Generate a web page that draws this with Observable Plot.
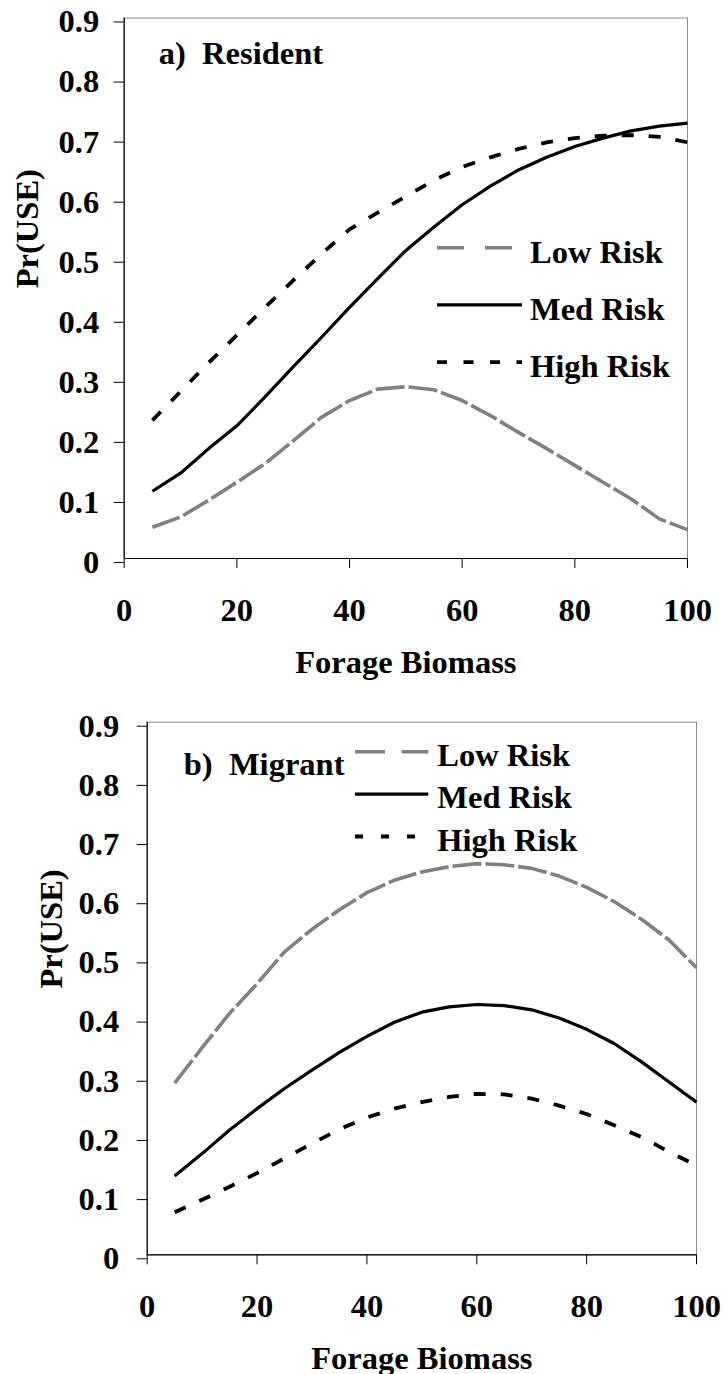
<!DOCTYPE html>
<html>
<head>
<meta charset="utf-8">
<script src="https://cdn.jsdelivr.net/npm/d3@7"></script>
<script src="https://cdn.jsdelivr.net/npm/@observablehq/plot@0.6"></script>
<style>
  body { margin: 0; background: #fff; }
  #chart { width: 723px; }
</style>
</head>
<body>
<div id="chart"></div>
<script>
// ---------- data ----------
const forage = [5,10,15,20,25,30,35,40,45,50,55,60,65,70,75,80,85,90,95,100];

const residentLow  = [0.052,0.069,0.097,0.127,0.158,0.196,0.235,0.263,0.282,0.286,0.281,0.263,0.238,0.210,0.183,0.155,0.127,0.099,0.066,0.048];
const residentMed  = [0.112,0.142,0.183,0.221,0.269,0.319,0.368,0.418,0.466,0.513,0.552,0.589,0.620,0.647,0.668,0.686,0.700,0.712,0.720,0.725];
const residentHigh = [0.230,0.278,0.326,0.372,0.418,0.463,0.507,0.548,0.576,0.603,0.630,0.652,0.668,0.682,0.693,0.700,0.704,0.705,0.702,0.693];

const migrantLow  = [0.290,0.350,0.408,0.458,0.512,0.550,0.583,0.612,0.633,0.647,0.656,0.661,0.659,0.653,0.640,0.621,0.597,0.567,0.532,0.485];
const migrantMed  = [0.133,0.171,0.211,0.247,0.281,0.312,0.342,0.369,0.393,0.410,0.419,0.423,0.421,0.414,0.400,0.381,0.357,0.326,0.292,0.258];
const migrantHigh = [0.072,0.093,0.115,0.138,0.163,0.188,0.212,0.232,0.247,0.258,0.267,0.272,0.271,0.264,0.252,0.238,0.219,0.199,0.174,0.151];

const seriesNames = ["Low Risk", "Med Risk", "High Risk"];
const xTicks = [0, 20, 40, 60, 80, 100];
const yTicks = [0, 0.1, 0.2, 0.3, 0.4, 0.5, 0.6, 0.7, 0.8, 0.9];
const panelLabels = ["a)\u00a0\u00a0Resident", "b)\u00a0\u00a0Migrant"];
const xTitle = "Forage Biomass";
const yTitle = "Pr(USE)";

// ---------- styles ----------
const FONT = '"Liberation Serif", "Times New Roman", Times, serif';
const FS = 32.5;
const seriesStyle = {
  "Low Risk":  {stroke: "#808080", strokeWidth: 3.6, dash: "29,4"},
  "Med Risk":  {stroke: "#000",    strokeWidth: 3.2, dash: null},
  "High Risk": {stroke: "#000",    strokeWidth: 3.8, dash: "12,15"}
};

function table(values) {
  const rows = [];
  seriesNames.forEach((s, i) => forage.forEach((f, j) => rows.push({series: s, x: f, y: values[i][j]})));
  return rows;
}

function panel(cfg) {
  const rows = table(cfg.values);
  const lines = seriesNames.map(s => Plot.line(rows.filter(d => d.series === s), {
    x: "x", y: "y",
    stroke: seriesStyle[s].stroke,
    strokeWidth: seriesStyle[s].strokeWidth,
    strokeDasharray: seriesStyle[s].dash,
    strokeLinecap: "butt",
    strokeLinejoin: "round"
  }));
  const svg = Plot.plot({
    width: 723,
    height: cfg.height,
    marginTop: cfg.mt, marginBottom: cfg.mb, marginLeft: cfg.ml, marginRight: cfg.mr,
    style: {fontFamily: FONT, fontSize: FS + "px", fontWeight: "bold", color: "#000", background: "#fff", overflow: "visible"},
    x: {domain: [0, 100]},
    y: {domain: [0, 0.9]},
    marks: [
      Plot.frame({stroke: "#8c8c8c", strokeWidth: 1}),
      ...lines,
      Plot.ruleX([0], {stroke: "#000", strokeWidth: 1.2}),
      Plot.ruleY([0], {stroke: "#000", strokeWidth: 1.2}),
      Plot.axisX({ticks: xTicks, tickSize: 10, tickPadding: 29, tickFormat: d => String(d), label: null}),
      Plot.axisY({ticks: yTicks, tickSize: 10, tickPadding: cfg.yPad, dy: 4, tickFormat: d => String(d), label: null}),
      Plot.text([xTitle], {frameAnchor: "bottom", lineAnchor: "middle", dy: 104}),
      Plot.text([yTitle], {frameAnchor: "left", lineAnchor: "middle", rotate: -90, dx: cfg.yTitleDx}),
      Plot.text([cfg.label], {frameAnchor: "top-left", lineAnchor: "middle", textAnchor: "start", dx: cfg.labelDx, dy: cfg.labelDy})
    ]
  });
  // legend (inside the frame)
  const lg = cfg.legend;
  const g = d3.select(svg).append("g").attr("transform", `translate(${cfg.ml},${cfg.mt})`);
  seriesNames.forEach((s, i) => {
    const base = lg.base + i * lg.gap;
    const st = seriesStyle[s];
    g.append("line")
      .attr("x1", lg.x0).attr("x2", s === "Low Risk" ? lg.lowEnd : lg.x1)
      .attr("y1", base - lg.lineOff).attr("y2", base - lg.lineOff)
      .attr("stroke", st.stroke).attr("stroke-width", st.strokeWidth)
      .attr("stroke-dasharray", s === "Low Risk" ? lg.lowDash : s === "High Risk" ? lg.highDash : null);
    g.append("text")
      .attr("x", lg.tx).attr("y", base)
      .attr("text-anchor", "start")
      .attr("font-family", FONT).attr("font-size", FS).attr("font-weight", "bold")
      .attr("fill", "#000")
      .text(s);
  });
  return svg;
}

const root = document.getElementById("chart");
root.appendChild(panel({
  values: [residentLow, residentMed, residentHigh],
  label: panelLabels[0],
  height: 690, mt: 17.5, mb: 132, ml: 123.7, mr: 36,
  yPad: 15, yTitleDx: -97, labelDx: 34.6, labelDy: 35.4,
  legend: {x0: 313.3, x1: 398.3, lowEnd: 392, tx: 406.3, base: 245.2, gap: 57.2, lineOff: 15,
           lowDash: "27,21", highDash: "10,16.5"}
}));
root.appendChild(panel({
  values: [migrantLow, migrantMed, migrantHigh],
  label: panelLabels[1],
  height: 684, mt: 31.7, mb: 119.7, ml: 146.7, mr: 27,
  yPad: 18, yTitleDx: -96, labelDx: 36.6, labelDy: 41.9,
  legend: {x0: 208.3, x1: 281.6, lowEnd: 281.6, tx: 290.6, base: 44.3, gap: 42.4, lineOff: 14.3,
           lowDash: "30,16.7", highDash: "8,18"}
}));
</script>
</body>
</html>
